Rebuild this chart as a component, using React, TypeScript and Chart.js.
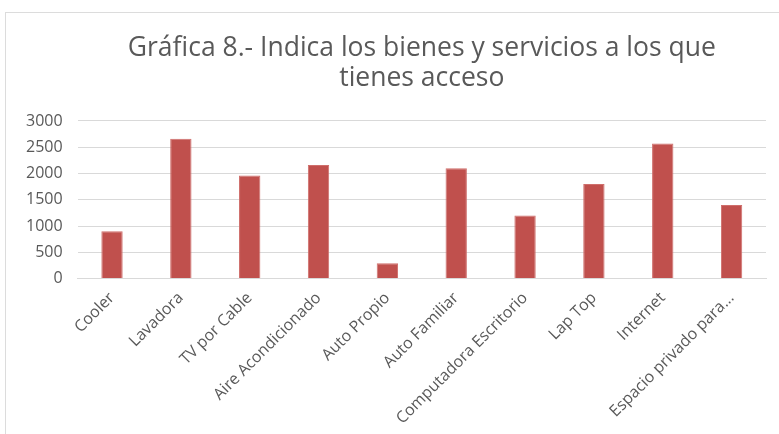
import React, { useEffect, useRef } from "react";
import { Chart, registerables } from "chart.js";

Chart.register(...registerables);

const categories = [
  "Cooler",
  "Lavadora",
  "TV por Cable",
  "Aire Acondicionado",
  "Auto Propio",
  "Auto Familiar",
  "Computadora Escritorio",
  "Lap Top",
  "Internet",
  "Espacio privado para...",
];
const values = [900, 2660, 1960, 2160, 290, 2100, 1200, 1800, 2570, 1400];
const titleLines = ["Gráfica 8.- Indica los bienes y servicios a los que", "tienes acceso"];
const yTicks = { min: 0, max: 3000, step: 500 };

export default function App() {
  const ref = useRef<HTMLCanvasElement | null>(null);
  useEffect(() => {
    if (!ref.current) return;
    const textColor = "#595959";
    const chart = new Chart(ref.current, {
      type: "bar",
      data: {
        labels: categories,
        datasets: [
          {
            data: values,
            backgroundColor: "#c0504d",
            borderColor: "#cf6e6b",
            borderWidth: 1,
            barPercentage: 0.31,
            categoryPercentage: 1,
          },
        ],
      },
      options: {
        responsive: false,
        animation: false,
        devicePixelRatio: 1,
        layout: { padding: { left: 5, right: 13, top: 0, bottom: 4 } },
        plugins: {
          legend: { display: false },
          tooltip: { enabled: false },
          title: {
            display: true,
            text: titleLines,
            fullSize: false,
            color: textColor,
            font: { family: "'Open Sans', sans-serif", size: 26.5, weight: "normal", lineHeight: 1.15 },
            padding: { top: 20, bottom: 27 },
          },
        },
        scales: {
          x: {
            grid: { display: false },
            border: { display: true, color: "#d9d9d9" },
            ticks: {
              color: textColor,
              font: { family: "'Open Sans', sans-serif", size: 16 },
              maxRotation: 45,
              minRotation: 45,
              padding: 2,
              autoSkip: false,
            },
          },
          y: {
            min: yTicks.min,
            max: yTicks.max,
            grid: { color: "#d9d9d9", drawTicks: false },
            border: { display: false },
            ticks: {
              stepSize: yTicks.step,
              color: textColor,
              font: { family: "'Open Sans', sans-serif", size: 16 },
              padding: 15,
              callback: (v: any) => String(v),
            },
          },
        },
      },
    });
    return () => chart.destroy();
  }, []);
  return (
    <div
      style={{
        position: "fixed",
        left: 0,
        top: 0,
        width: 779,
        height: 434,
        background: "#fff",
        overflow: "hidden",
      }}
    >
      <div
        style={{
          position: "absolute",
          left: 5,
          top: 12,
          width: 774,
          height: 422,
          borderTop: "1px solid #dcdcdc",
          borderLeft: "1px solid #dcdcdc",
          boxSizing: "border-box",
        }}
      >
        <canvas ref={ref} width={773} height={421} style={{ display: "block" }} />
      </div>
    </div>
  );
}
